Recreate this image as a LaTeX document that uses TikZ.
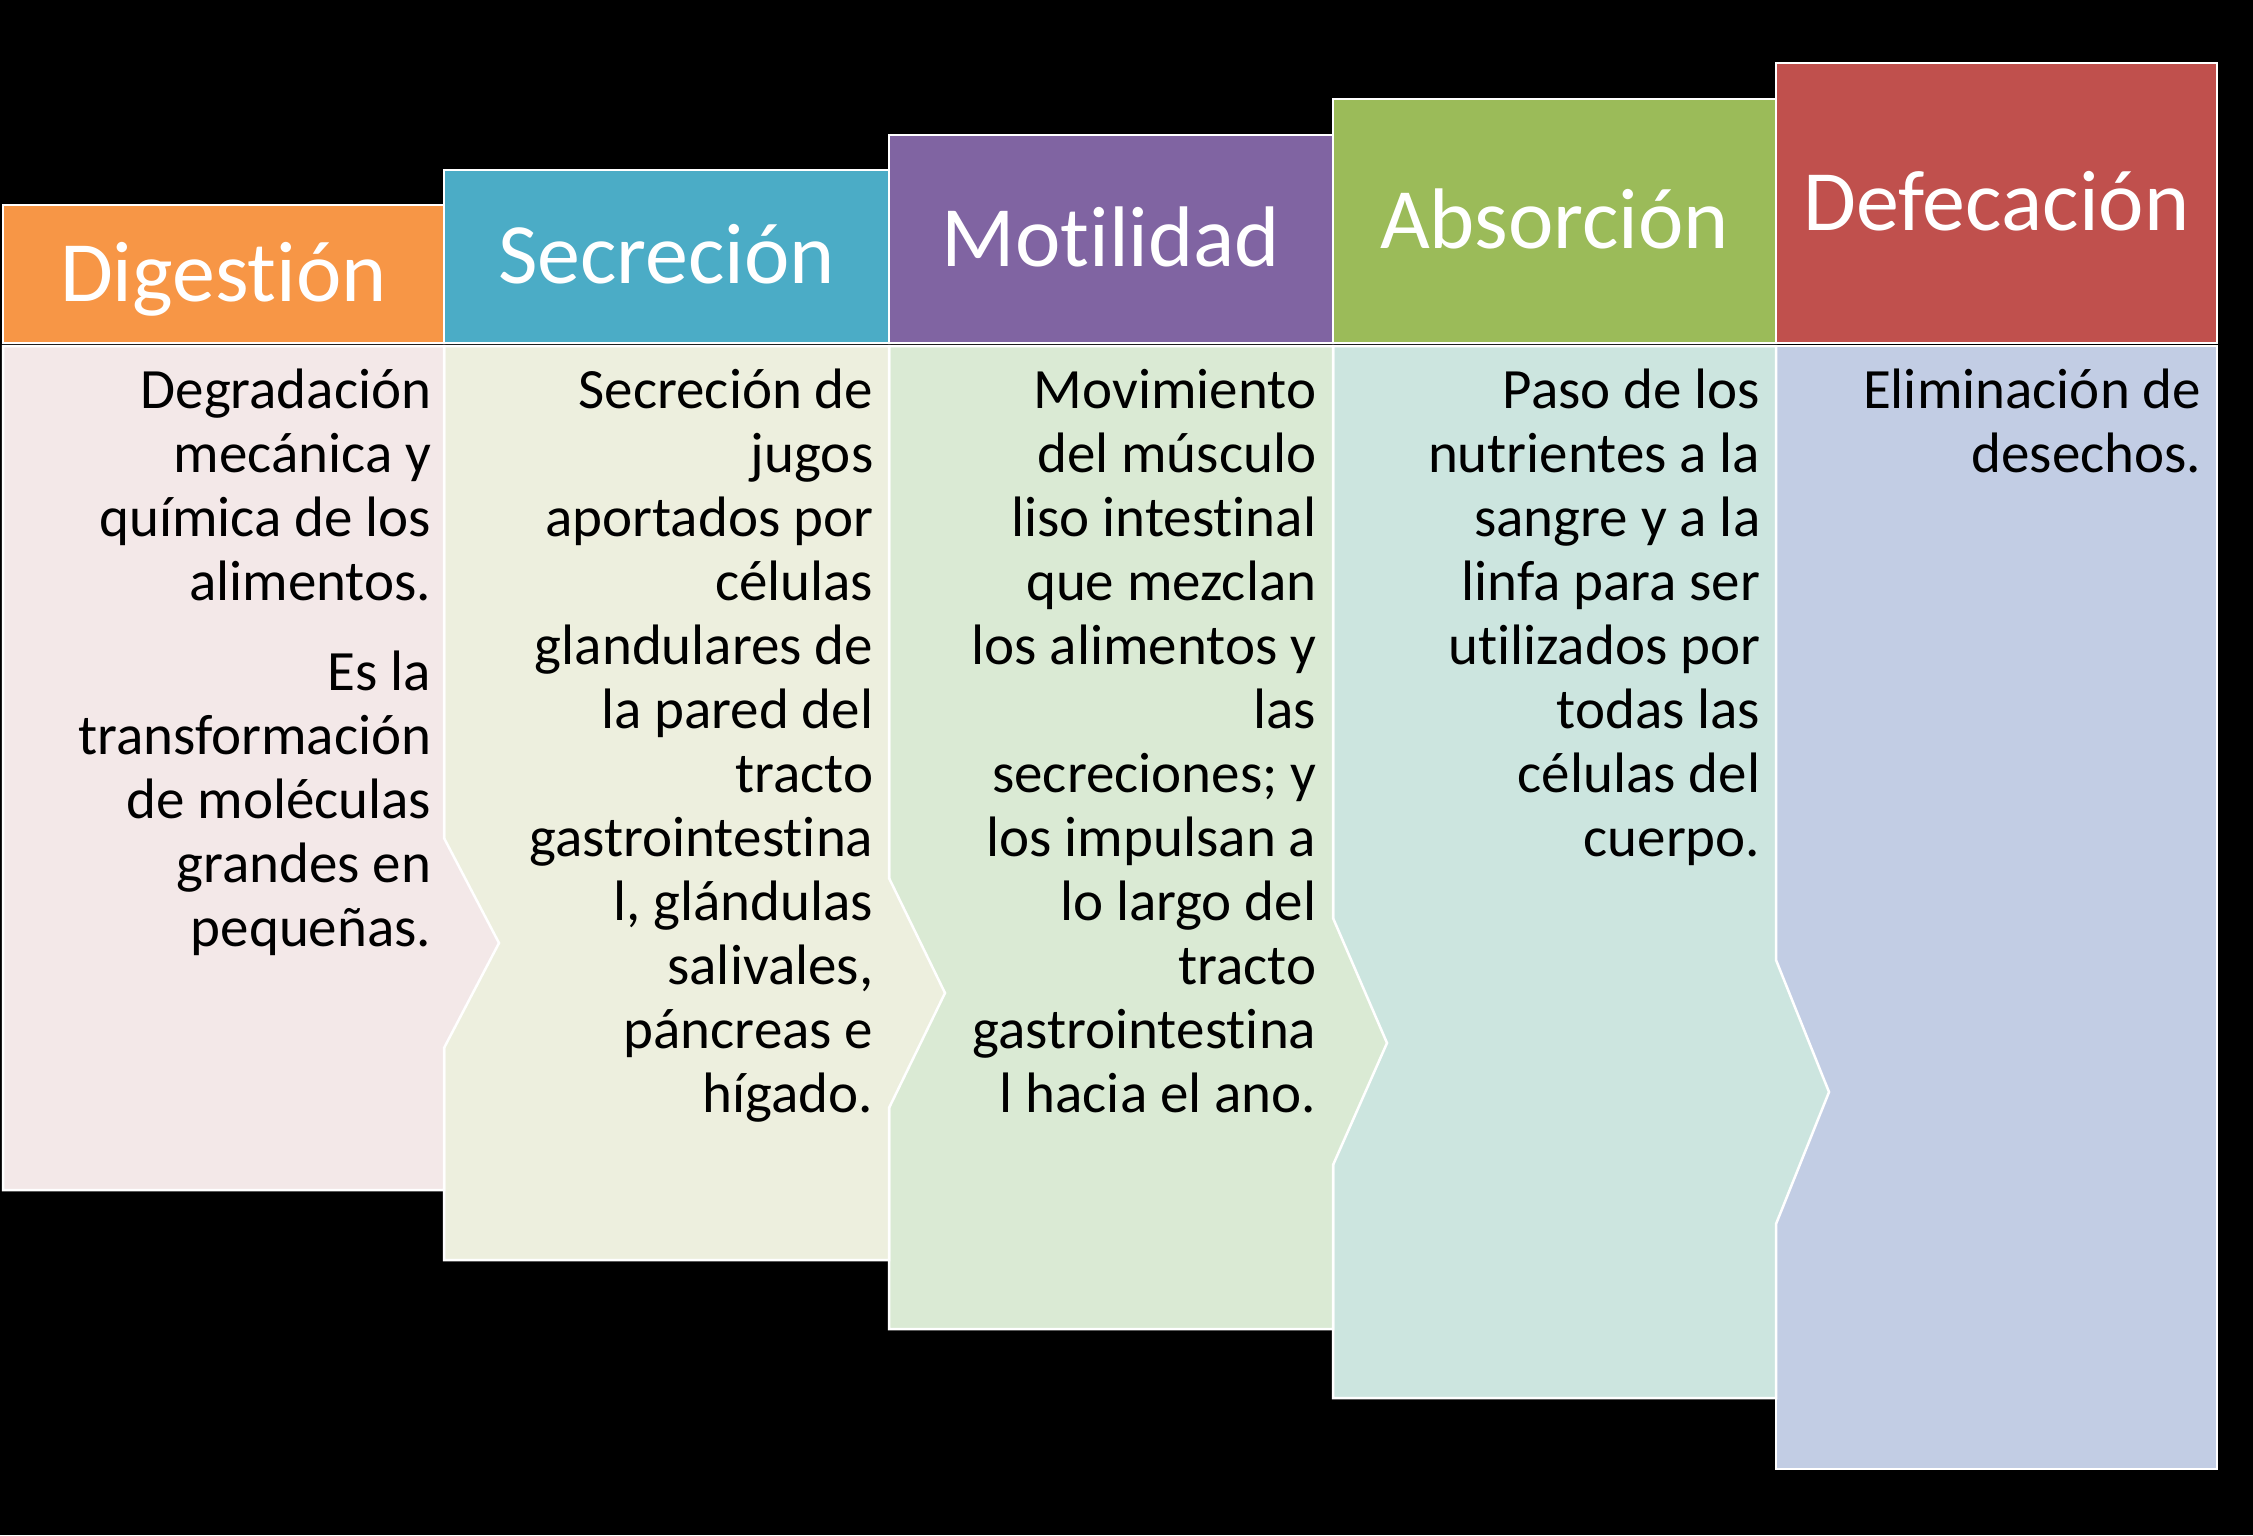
\documentclass[tikz,border=0pt]{standalone}
\usepackage{fontspec}
\setmainfont[RawFeature={-liga;-clig;-calt;-dlig;-rlig}]{Carlito}
\newcommand{\tI}{t\kern0pt i}
\definecolor{hOrange}{RGB}{247,150,70}
\definecolor{hBlue}{RGB}{75,172,198}
\definecolor{hPurple}{RGB}{128,100,162}
\definecolor{hGreen}{RGB}{155,187,89}
\definecolor{hRed}{RGB}{192,80,77}
\definecolor{bPink}{RGB}{243,232,232}
\definecolor{bCream}{RGB}{237,239,222}
\definecolor{bGreen}{RGB}{218,234,212}
\definecolor{bTeal}{RGB}{204,229,223}
\definecolor{bBlue}{RGB}{194,205,228}
\begin{document}
\begin{tikzpicture}[x=1pt,y=-1pt,
  hdr/.style={draw=white, line width=2.5pt, rectangle, inner sep=0pt,
    text=white, font={\fontsize{86}{100}\selectfont}, text height=54.4pt, text depth=0pt},
  bodyshape/.style={draw=white, line width=2.5pt, line join=miter},
  bodytext/.style={anchor=north east, inner sep=0pt, align=right, text=black,
    font={\fontsize{57}{64}\selectfont}}]
\fill[black] (0,0) rectangle (2253,1535);
\useasboundingbox (0,0) rectangle (2253,1535);
% bodies, right to left so each arrow tip lies on top of the next column
\path[bodyshape, fill=bBlue] (1776,346) -- (2217,346) -- (2217,1469) -- (1776,1469) -- cycle;
\path[bodyshape, fill=bTeal] (1333,346) -- (1776,346) -- (1776,960) -- (1829,1092) -- (1776,1224) -- (1776,1398) -- (1333,1398) -- cycle;
\path[bodyshape, fill=bGreen] (889,346) -- (1333,346) -- (1333,918) -- (1387,1043) -- (1333,1165) -- (1333,1329) -- (889,1329) -- cycle;
\path[bodyshape, fill=bCream] (444,346) -- (889,346) -- (889,878) -- (945,993) -- (889,1108) -- (889,1260) -- (444,1260) -- cycle;
\path[bodyshape, fill=bPink] (3,346) -- (444,346) -- (444,838) -- (499,943) -- (444,1048) -- (444,1190) -- (3,1190) -- cycle;
% headers
\node[hdr, fill=hOrange, minimum width=441pt, minimum height=138pt] (h1) at (223.5,274) {Diges\tI ón};
\node[hdr, fill=hBlue, minimum width=445pt, minimum height=173pt] (h2) at (666.5,256.5) {Secreción};
\node[hdr, fill=hPurple, minimum width=444pt, minimum height=208pt] (h3) at (1111,239) {Motilidad};
\node[hdr, fill=hGreen, minimum width=443pt, minimum height=244pt] (h4) at (1554.5,221) {Absorción};
\node[hdr, fill=hRed, minimum width=441pt, minimum height=280pt] (h5) at (1996.5,203) {Defecación};
% texts
\node[bodytext] (t1) at (431.5,348) {\rule{0pt}{60pt}Degradación\\mecánica y\\química de los\\alimentos.\\[26.5pt]Es la\\transformación\\de moléculas\\grandes en\\pequeñas.};
\node[bodytext] (t2) at (873.5,348) {\rule{0pt}{60pt}Secreción de\\jugos\\aportados por\\células\\glandulares de\\la pared del\\tracto\\gastroint\kern0pt estina\\l, glándulas\\salivales,\\páncreas e\\hígado.};
\node[bodytext] (t3) at (1316.5,348) {\rule{0pt}{60pt}Movimiento\\del músculo\\liso intestinal\\que mezclan\\los alimentos y\\las\\secreciones; y\\los impulsan a\\lo largo del\\tracto\\gastroint\kern0pt estina\\l hacia el ano.};
\node[bodytext] (t4) at (1760.5,348) {\rule{0pt}{60pt}Paso de los\\nutrientes a la\\sangre y a la\\linfa para ser\\u\tI lizados por\\todas las\\células del\\cuerpo.};
\node[bodytext] (t5) at (2201.5,348) {\rule{0pt}{60pt}Eliminación de\\desechos.};
\end{tikzpicture}
\end{document}
